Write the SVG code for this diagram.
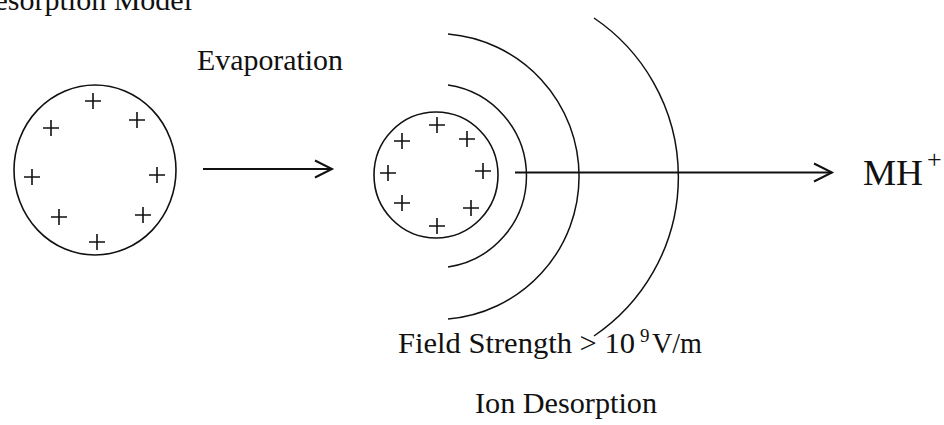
<svg xmlns="http://www.w3.org/2000/svg" width="944" height="425" viewBox="0 0 944 425">
<style>
  .txt { font-family: "Liberation Serif", "Times New Roman", serif; fill: #111; }
  .drop { fill: none; stroke: #111; stroke-width: 1.6; }
  .plus { fill: none; stroke: #111; stroke-width: 1.6; }
  .arc { fill: none; stroke: #111; stroke-width: 1.5; }
  .conn { fill: none; stroke: #111; stroke-width: 2; }
  .head { fill: none; stroke: #111; stroke-width: 2; stroke-linejoin: miter; }
</style>
<defs>
  <path id="p" d="M -8 0 H 8 M 0 -8 V 8"/>
</defs>
<rect width="944" height="425" fill="#fff"/>

<g id="title">
  <text class="txt" x="192" y="10" font-size="30" text-anchor="end">Desorption Model</text>
</g>

<g id="droplet-large">
  <ellipse class="drop" cx="95" cy="170" rx="81" ry="85"/>
  <g class="plus">
    <use href="#p" x="93" y="101"/>
    <use href="#p" x="51" y="128"/>
    <use href="#p" x="137" y="120"/>
    <use href="#p" x="32" y="177"/>
    <use href="#p" x="157" y="175"/>
    <use href="#p" x="59" y="217"/>
    <use href="#p" x="143" y="215"/>
    <use href="#p" x="97" y="242"/>
  </g>
</g>

<g id="label-evaporation">
  <text class="txt" x="197" y="70" font-size="30" textLength="146" lengthAdjust="spacingAndGlyphs">Evaporation</text>
</g>

<g id="droplet-small">
  <ellipse class="drop" cx="436" cy="175" rx="62" ry="63"/>
  <g class="plus">
    <use href="#p" x="437" y="125"/>
    <use href="#p" x="402" y="141"/>
    <use href="#p" x="467" y="139"/>
    <use href="#p" x="388" y="173"/>
    <use href="#p" x="483" y="171"/>
    <use href="#p" x="402" y="203"/>
    <use href="#p" x="471" y="208"/>
    <use href="#p" x="437" y="226"/>
  </g>
</g>

<g id="field-arcs">
  <path class="arc" d="M 448 85 A 92 92 0 0 1 448 267"/>
  <path class="arc" d="M 448 34 A 143 143 0 0 1 448 319"/>
  <path class="arc" d="M 594 18 A 192 192 0 0 1 594 336"/>
</g>

<g id="ion-mh">
  <text class="txt" x="863" y="185" font-size="35" textLength="60" lengthAdjust="spacingAndGlyphs">MH</text>
  <text class="txt" x="927" y="168" font-size="26">+</text>
</g>

<g id="label-field">
  <text class="txt" x="398" y="353" font-size="30" textLength="237" lengthAdjust="spacingAndGlyphs">Field Strength &gt; 10</text>
  <text class="txt" x="640" y="342" font-size="19">9</text>
  <text class="txt" x="652" y="353" font-size="30" textLength="50" lengthAdjust="spacingAndGlyphs">V/m</text>
</g>

<g id="label-ion-desorption">
  <text class="txt" x="475" y="413" font-size="30" textLength="182" lengthAdjust="spacingAndGlyphs">Ion Desorption</text>
</g>

<g id="connectors">
  <path class="conn" d="M 203 169 H 332"/>
  <path class="head" d="M 315 160.5 L 332 169 L 315 177.5"/>
  <path class="conn" d="M 515 172.5 H 832"/>
  <path class="head" d="M 814 163.5 L 832 172.5 L 814 181.5"/>
</g>
</svg>
